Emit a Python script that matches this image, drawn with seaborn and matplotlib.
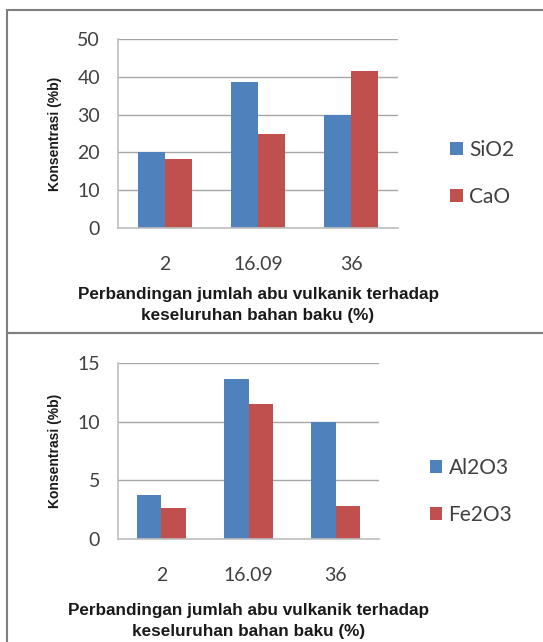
"""Komposisi oksida vs perbandingan abu vulkanik - dua panel bar chart."""
import matplotlib.pyplot as plt
import matplotlib.patches as mpatches
import pandas as pd
import seaborn as sns

categories = ["2", "16.09", "36"]

sio2 = [20.0, 38.5, 30.0]
cao = [18.3, 24.8, 41.5]

al2o3 = [3.76, 13.7, 10.0]
fe2o3 = [2.68, 11.56, 2.85]

series_top = {"SiO2": sio2, "CaO": cao}
series_bottom = {"Al2O3": al2o3, "Fe2O3": fe2o3}

ytick_top = [0, 10, 20, 30, 40, 50]
ytick_bottom = [0, 5, 10, 15]

xlabel = "Perbandingan jumlah abu vulkanik terhadap\nkeseluruhan bahan baku (%)"
ylabel = "Konsentrasi (%b)"

BLUE = "#4F81BD"
RED = "#C0504D"
TEXT = "#404040"
GRID = "#A6A6A6"
BOLD_FONT = ["Liberation Sans", "DejaVu Sans"]


def to_long(series: dict) -> pd.DataFrame:
    rows = []
    for name, values in series.items():
        for cat, val in zip(categories, values):
            rows.append({"kategori": cat, "oksida": name, "nilai": val})
    return pd.DataFrame(rows)


def draw_panel(ax, series, yticks, width, legend_xy, xlabelpad):
    df = to_long(series)
    names = list(series.keys())
    sns.barplot(
        data=df, x="kategori", y="nilai", hue="oksida", order=categories,
        hue_order=names, palette=[BLUE, RED], width=width, gap=0,
        saturation=1, errorbar=None, ax=ax, linewidth=0
    )
    ax.set_ylim(yticks[0], yticks[-1])
    ax.set_yticks(yticks)
    ax.set_xlim(-0.5, 2.5)
    ax.yaxis.grid(True, color=GRID, linewidth=1.0)
    ax.set_axisbelow(True)
    for side in ("top", "right"):
        ax.spines[side].set_visible(False)
    for side in ("left", "bottom"):
        ax.spines[side].set_color("#BFBFBF")
        ax.spines[side].set_linewidth(1.2)
    ax.tick_params(axis="y", length=5, color="#BFBFBF", pad=8,
                   labelsize=14, labelcolor=TEXT)
    ax.tick_params(axis="x", length=0, pad=20, labelsize=14,
                   labelcolor=TEXT)
    ax.set_xticks([-0.5, 0.5, 1.5, 2.5], minor=True)
    ax.tick_params(axis="x", which="minor", length=5, color="#BFBFBF")
    ax.set_xlabel(xlabel, fontsize=12.3, fontweight="bold", color="#1a1a1a",
                  family=BOLD_FONT, labelpad=xlabelpad, linespacing=1.5)
    ax.set_ylabel(ylabel, fontsize=10, fontweight="bold", color="#1a1a1a",
                  family=BOLD_FONT, labelpad=11)

    handles, labels = ax.get_legend_handles_labels()
    ax.legend(
        handles, labels, loc="center left", bbox_to_anchor=legend_xy,
        bbox_transform=ax.figure.transFigure, frameon=False, fontsize=15,
        handlelength=0.6, handleheight=0.6, handletextpad=0.3,
        labelspacing=1.3, labelcolor=TEXT
    )


sns.set_theme(style="white")
plt.rcParams["font.family"] = ["Lato", "DejaVu Sans"]

fig = plt.figure(figsize=(5.43, 6.42), dpi=100)
fig.patch.set_facecolor("white")

ax_top = fig.add_axes([0.2173, 0.6449, 0.5157, 0.2944])
ax_bottom = fig.add_axes([0.2173, 0.1604, 0.4807, 0.2737])

draw_panel(ax_top, series_top, ytick_top, 0.58, (0.795, 0.73), 10)
draw_panel(ax_bottom, series_bottom, ytick_bottom, 0.565, (0.757, 0.235), 14)

# panel frames as in the source figure
fig.patches.append(mpatches.Rectangle(
    (7 / 543, 1 - 333 / 642), 0.99, 323 / 642, transform=fig.transFigure,
    fill=False, edgecolor="#7F7F7F", linewidth=1.5
))
fig.patches.append(mpatches.Rectangle(
    (7 / 543, -0.05), 0.99, 1 - 333 / 642 + 0.05, transform=fig.transFigure,
    fill=False, edgecolor="#7F7F7F", linewidth=1.5
))

fig.savefig("out.png", dpi=100)
